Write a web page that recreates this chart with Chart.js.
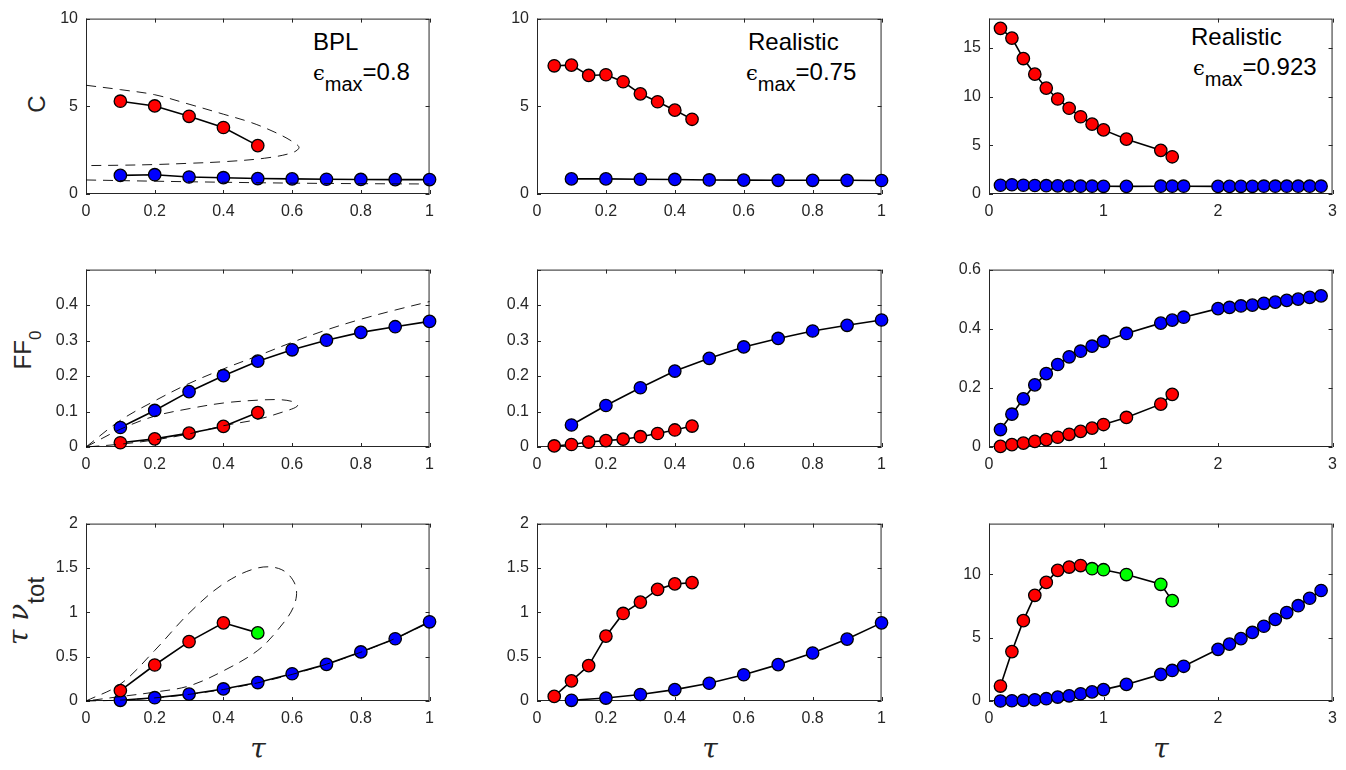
<!DOCTYPE html>
<html>
<head>
<meta charset="utf-8">
<script src="https://cdn.jsdelivr.net/npm/chart.js@4.4.0/dist/chart.umd.min.js"></script>
<style>
body { margin: 0; background: #fff; }
#fig { position: relative; width: 1346px; height: 770px; overflow: hidden; font-family: "Liberation Sans", Arial, sans-serif; }
#fig canvas { position: absolute; }
.lbl { position: absolute; white-space: nowrap; font-size: 24px; line-height: 24px; color: #000; }
.axt { color: #262626; }
.rot { transform: translate(-50%, -50%) rotate(-90deg); }
.ctr { transform: translate(-50%, -50%); }
.greek { font-family: "DejaVu Serif", "Liberation Serif", serif; }
.sub { position: relative; font-size: 20px; top: 11px; }
</style>
</head>
<body>
<div id="fig">
  <!-- y-axis titles -->
  <div class="lbl axt rot" style="left:37px; top:104px;">C</div>
  <div class="lbl axt rot" style="left:24px; top:350px;">FF<span class="sub" style="font-size:17px; top:10px;">0</span></div>
  <div class="lbl axt rot" style="left:19px; top:611px;"><span class="greek" style="font-size:28px; font-style:italic;">τ ν</span><span class="sub" style="font-size:24px; top:16px;">tot</span></div>
  <!-- x-axis titles -->
  <div class="lbl axt ctr greek" style="left:258px; top:749px; font-size:28px; font-style:italic;">τ</div>
  <div class="lbl axt ctr greek" style="left:710px; top:749px; font-size:28px; font-style:italic;">τ</div>
  <div class="lbl axt ctr greek" style="left:1161px; top:749px; font-size:28px; font-style:italic;">τ</div>
  <!-- panel annotations -->
  <div class="lbl" style="left:313px; top:30px;">BPL</div>
  <div class="lbl" style="left:313px; top:60px;"><span class="greek" style="font-size:21px;">ϵ</span><span class="sub">max</span>=0.8</div>
  <div class="lbl" style="left:748px; top:30px;">Realistic</div>
  <div class="lbl" style="left:746px; top:60px;"><span class="greek" style="font-size:21px;">ϵ</span><span class="sub">max</span>=0.75</div>
  <div class="lbl" style="left:1191px; top:25px;">Realistic</div>
  <div class="lbl" style="left:1193px; top:55px;"><span class="greek" style="font-size:21px;">ϵ</span><span class="sub">max</span>=0.923</div>
</div>
<script>
// ---- BPL, eps_max = 0.8 ----
const tauBplRed = [0.1, 0.2, 0.3, 0.4, 0.5];
const tauBplBlue = [0.1, 0.2, 0.3, 0.4, 0.5, 0.6, 0.7, 0.8, 0.9, 1.0];
const cBplRed = [5.29, 5.02, 4.43, 3.79, 2.76];
const cBplBlue = [1.06, 1.1, 0.97, 0.93, 0.88, 0.86, 0.84, 0.83, 0.82, 0.82];
const ffBplRed = [0.012, 0.023, 0.039, 0.058, 0.097];
const ffBplBlue = [0.055, 0.103, 0.156, 0.201, 0.242, 0.274, 0.301, 0.323, 0.339, 0.354];
const nuBplRed = [0.117, 0.406, 0.669, 0.881, 0.768];
const nuBplKind = ["r", "r", "r", "r", "g"];
const nuBplBlue = [0.008, 0.037, 0.077, 0.136, 0.208, 0.307, 0.413, 0.553, 0.702, 0.893];

// analytic curves (dashed) for the BPL case
const cLoopTau = [0, 0.1, 0.2, 0.3, 0.4, 0.48, 0.55, 0.6, 0.62, 0.6, 0.52, 0.4, 0.3, 0.2, 0.1, 0];
const cLoopVal = [6.2, 5.95, 5.66, 5.12, 4.55, 4.08, 3.52, 3.0, 2.65, 2.35, 2.04, 1.84, 1.75, 1.68, 1.64, 1.62];
const cLowTau = [0, 0.2, 0.4, 0.6, 0.8, 1.0];
const cLowVal = [0.8, 0.73, 0.67, 0.62, 0.59, 0.57];
const ffUpTau = [0, 0.1, 0.2, 0.3, 0.4, 0.5, 0.6, 0.7, 0.8, 0.9, 1.0];
const ffUpVal = [0, 0.075, 0.13, 0.179, 0.22, 0.257, 0.295, 0.33, 0.36, 0.386, 0.41];
const ffLoopTau = [0, 0.1, 0.2, 0.3, 0.4, 0.5, 0.57, 0.61, 0.615, 0.58, 0.5, 0.4, 0.3, 0.2, 0.1, 0];
const ffLoopVal = [0, 0.05, 0.087, 0.108, 0.124, 0.132, 0.133, 0.125, 0.115, 0.101, 0.078, 0.06, 0.037, 0.02, 0.008, 0];
const nuLoopTau = [0, 0.1, 0.2, 0.3, 0.4, 0.5, 0.57, 0.61, 0.605, 0.56, 0.5, 0.4, 0.3, 0.2, 0.1, 0];
const nuLoopVal = [0, 0.19, 0.57, 0.99, 1.32, 1.5, 1.48, 1.3, 1.07, 0.81, 0.57, 0.34, 0.17, 0.1, 0.05, 0];
const nuLowTau = [0, 0.1, 0.2, 0.3, 0.4, 0.5, 0.6, 0.7, 0.8, 0.9, 1.0];
const nuLowVal = [0, 0.01, 0.035, 0.075, 0.13, 0.205, 0.3, 0.415, 0.55, 0.705, 0.885];

// ---- Realistic, eps_max = 0.75 ----
const tauR1Red = [0.05, 0.1, 0.15, 0.2, 0.25, 0.3, 0.35, 0.4, 0.45];
const tauR1Blue = [0.1, 0.2, 0.3, 0.4, 0.5, 0.6, 0.7, 0.8, 0.9, 1.0];
const cR1Red = [7.31, 7.35, 6.76, 6.8, 6.4, 5.71, 5.26, 4.78, 4.26];
const cR1Blue = [0.86, 0.86, 0.84, 0.83, 0.8, 0.79, 0.78, 0.78, 0.78, 0.77];
const ffR1Red = [0.003, 0.007, 0.014, 0.018, 0.022, 0.029, 0.038, 0.048, 0.059];
const ffR1Blue = [0.062, 0.117, 0.167, 0.214, 0.25, 0.282, 0.306, 0.327, 0.343, 0.358];
const nuR1Red = [0.052, 0.227, 0.399, 0.731, 0.987, 1.115, 1.258, 1.32, 1.334];
const nuR1Blue = [0.008, 0.033, 0.073, 0.128, 0.2, 0.296, 0.41, 0.541, 0.698, 0.881];

// ---- Realistic, eps_max = 0.923 ----
const tauR2Red = [0.1, 0.2, 0.3, 0.4, 0.5, 0.6, 0.7, 0.8, 0.9, 1.0, 1.2, 1.5, 1.6];
const tauR2Blue = [0.1, 0.2, 0.3, 0.4, 0.5, 0.6, 0.7, 0.8, 0.9, 1.0, 1.2, 1.5, 1.6, 1.7,
                   2.0, 2.1, 2.2, 2.3, 2.4, 2.5, 2.6, 2.7, 2.8, 2.9];
const cR2Red = [17.0, 16.0, 13.9, 12.3, 10.87, 9.75, 8.8, 7.93, 7.17, 6.58, 5.63, 4.48, 3.82];
const cR2Blue = [0.9, 0.95, 0.9, 0.87, 0.85, 0.83, 0.82, 0.8, 0.8, 0.79, 0.78, 0.8, 0.8, 0.8,
                 0.78, 0.78, 0.79, 0.79, 0.8, 0.8, 0.8, 0.8, 0.8, 0.8];
const ffR2Red = [0.002, 0.008, 0.013, 0.019, 0.025, 0.033, 0.043, 0.053, 0.064, 0.076, 0.1, 0.145, 0.178];
const ffR2Blue = [0.059, 0.111, 0.163, 0.21, 0.248, 0.279, 0.305, 0.324, 0.341, 0.357, 0.384, 0.419, 0.429, 0.439,
                  0.468, 0.472, 0.477, 0.48, 0.486, 0.49, 0.496, 0.5, 0.506, 0.511];
const nuR2Red = [1.18, 3.9, 6.34, 8.34, 9.36, 10.31, 10.57, 10.69, 10.44, 10.36, 9.98, 9.21, 7.92];
const nuR2Kind = ["r", "r", "r", "r", "r", "r", "r", "r", "g", "g", "g", "g", "g"];
const nuR2Blue = [0.0, 0.02, 0.05, 0.1, 0.18, 0.31, 0.41, 0.57, 0.72, 0.9, 1.31, 2.1, 2.41, 2.74,
                  4.08, 4.49, 4.92, 5.41, 5.9, 6.44, 6.98, 7.52, 8.11, 8.72];

// axis boxes (pixels) for the 3x3 grid
const colLeft = [86, 537, 989];
const colRight = [430, 882, 1333];
const rowTop = [13, 264, 518];
const rowBottom = [194, 447, 701];

const RED = "#ff0000", BLUE = "#0000ff", GREEN = "#00ff00";
const kindColor = { r: RED, g: GREEN };

function series(xs, ys, fill) {
  return {
    data: xs.map((x, i) => ({ x: x, y: ys[i] })),
    showLine: true,
    borderColor: "#000",
    borderWidth: 1.6,
    pointRadius: 6.2,
    pointBorderWidth: 1.3,
    pointBorderColor: "#000",
    pointBackgroundColor: fill,
    clip: false,
    order: 1
  };
}

function dashed(xs, ys) {
  return {
    data: xs.map((x, i) => ({ x: x, y: ys[i] })),
    showLine: true,
    borderColor: "#000",
    borderWidth: 0.9,
    borderDash: [10, 7],
    pointRadius: 0,
    tension: 0.35,
    clip: false,
    order: 0
  };
}

// box around the plot area with inward ticks on all four sides
const frame = {
  id: "frame",
  beforeDatasetsDraw(chart) {
    const { ctx, chartArea: a, scales } = chart;
    const len = 4;
    ctx.save();
    ctx.strokeStyle = "#262626";
    ctx.lineWidth = 1;
    ctx.strokeRect(a.left + 0.5, a.top + 0.5, a.width - 1, a.height - 1);
    ctx.beginPath();
    scales.x.ticks.forEach(t => {
      const p = Math.round(scales.x.getPixelForValue(t.value)) + 0.5;
      ctx.moveTo(p, a.bottom); ctx.lineTo(p, a.bottom - len);
      ctx.moveTo(p, a.top); ctx.lineTo(p, a.top + len);
    });
    scales.y.ticks.forEach(t => {
      const p = Math.round(scales.y.getPixelForValue(t.value)) + 0.5;
      ctx.moveTo(a.left, p); ctx.lineTo(a.left + len, p);
      ctx.moveTo(a.right, p); ctx.lineTo(a.right - len, p);
    });
    ctx.stroke();
    ctx.restore();
  }
};

const tickFont = { family: "Liberation Sans", size: 16 };
const fmt = v => String(+v.toFixed(4));

function panel(col, row, datasets, xr, yr) {
  const padL = 60, padT = 12, padR = 12, padB = 40;
  const L = colLeft[col], R = colRight[col], T = rowTop[row], B = rowBottom[row];
  const cv = document.createElement("canvas");
  cv.width = R - L + padL + padR;
  cv.height = B - T + padT + padB;
  cv.style.left = (L - padL) + "px";
  cv.style.top = (T - padT) + "px";
  document.getElementById("fig").appendChild(cv);

  new Chart(cv, {
    type: "scatter",
    data: { datasets: datasets },
    options: {
      responsive: false,
      animation: false,
      devicePixelRatio: 1,
      layout: { padding: { top: padT, right: padR, left: 0, bottom: 0 } },
      plugins: { legend: { display: false }, tooltip: { enabled: false } },
      scales: {
        x: {
          type: "linear", min: xr[0], max: xr[1],
          grid: { display: false, drawTicks: false },
          border: { display: false },
          ticks: { stepSize: xr[2], includeBounds: false, autoSkip: false, maxRotation: 0,
                   padding: 8, color: "#262626", font: tickFont, callback: fmt },
          afterFit(s) { s.height = padB; }
        },
        y: {
          type: "linear", min: yr[0], max: yr[1],
          grid: { display: false, drawTicks: false },
          border: { display: false },
          ticks: { stepSize: yr[2], includeBounds: false, autoSkip: false, padding: 8,
                   color: "#262626", font: tickFont,
                   callback: v => (yr[3] !== undefined && v > yr[3] + 1e-9) ? "" : fmt(v) },
          afterFit(s) { s.width = padL; }
        }
      }
    },
    plugins: [frame]
  });
}

// column 1: BPL
panel(0, 0, [
  dashed(cLoopTau, cLoopVal), dashed(cLowTau, cLowVal),
  series(tauBplRed, cBplRed, RED), series(tauBplBlue, cBplBlue, BLUE)
], [0, 1, 0.2], [0, 10, 5]);
panel(0, 1, [
  dashed(ffUpTau, ffUpVal), dashed(ffLoopTau, ffLoopVal),
  series(tauBplRed, ffBplRed, RED), series(tauBplBlue, ffBplBlue, BLUE)
], [0, 1, 0.2], [0, 0.5, 0.1, 0.4]);
panel(0, 2, [
  dashed(nuLoopTau, nuLoopVal), dashed(nuLowTau, nuLowVal),
  series(tauBplRed, nuBplRed, nuBplKind.map(k => kindColor[k])), series(tauBplBlue, nuBplBlue, BLUE)
], [0, 1, 0.2], [0, 2, 0.5]);

// column 2: realistic, eps_max = 0.75
panel(1, 0, [series(tauR1Red, cR1Red, RED), series(tauR1Blue, cR1Blue, BLUE)],
      [0, 1, 0.2], [0, 10, 5]);
panel(1, 1, [series(tauR1Red, ffR1Red, RED), series(tauR1Blue, ffR1Blue, BLUE)],
      [0, 1, 0.2], [0, 0.5, 0.1, 0.4]);
panel(1, 2, [series(tauR1Red, nuR1Red, RED), series(tauR1Blue, nuR1Blue, BLUE)],
      [0, 1, 0.2], [0, 2, 0.5]);

// column 3: realistic, eps_max = 0.923
panel(2, 0, [series(tauR2Red, cR2Red, RED), series(tauR2Blue, cR2Blue, BLUE)],
      [0, 3, 1], [0, 18, 5]);
panel(2, 1, [series(tauR2Red, ffR2Red, RED), series(tauR2Blue, ffR2Blue, BLUE)],
      [0, 3, 1], [0, 0.6, 0.2]);
panel(2, 2, [series(tauR2Red, nuR2Red, nuR2Kind.map(k => kindColor[k])), series(tauR2Blue, nuR2Blue, BLUE)],
      [0, 3, 1], [0, 14, 5]);
</script>
</body>
</html>
